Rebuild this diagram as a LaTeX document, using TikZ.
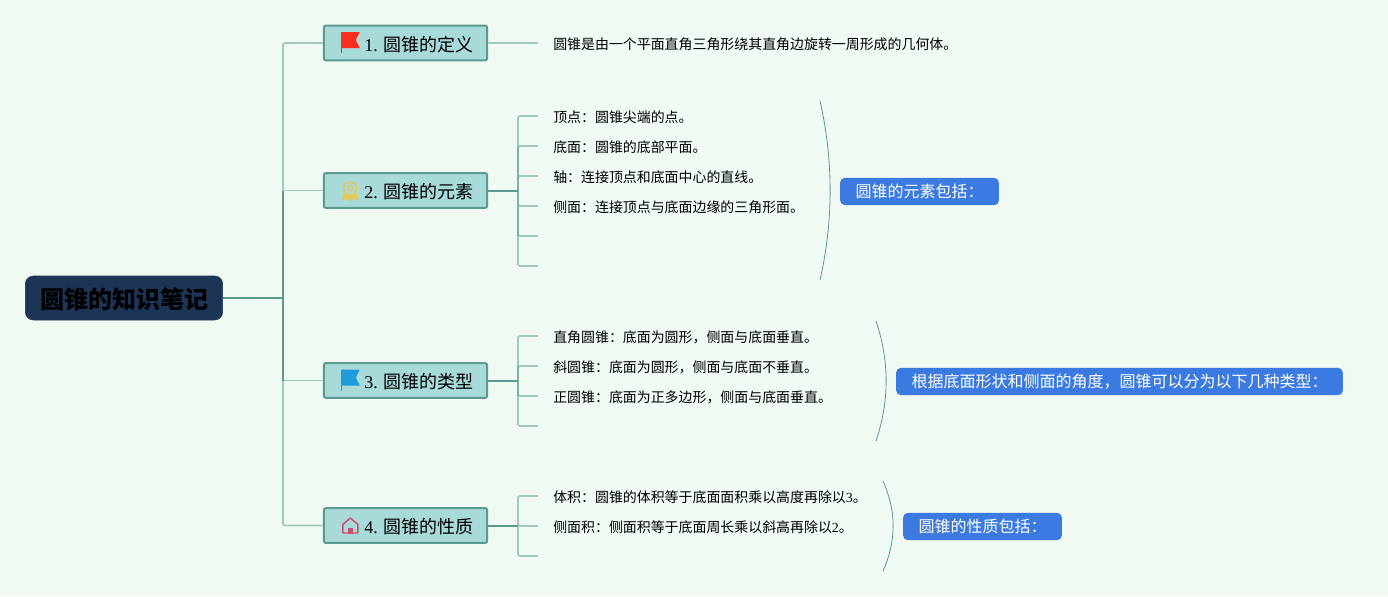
\documentclass[tikz,border=0pt]{standalone}
\usepackage{fontspec}
\setmainfont{Liberation Serif}
\newfontfamily\cjk{Noto Sans CJK SC}
\usetikzlibrary{positioning,calc}
\definecolor{bgc}{HTML}{F0FAF2}
\definecolor{rootc}{HTML}{1C3557}
\definecolor{topicc}{HTML}{A8DADA}
\definecolor{edgec}{HTML}{5B9A8F}
\definecolor{midc}{HTML}{7FB3A8}
\definecolor{farc}{HTML}{A0CBBB}
\definecolor{notec}{HTML}{3B7AE0}
\definecolor{flagred}{HTML}{F5301E}
\definecolor{flagblue}{HTML}{1E9BD8}
\definecolor{badgec}{HTML}{E5C85A}
\definecolor{housec}{HTML}{C94F6D}
\newcommand{\dig}[1]{{\rmfamily #1}}
\newcommand{\iconflag}[1]{%
  \fill[#1] (19,-11) -- (37,-11) -- (33,-3) -- (37,5) -- (19,5) -- cycle;
  \draw[#1,line width=0.6pt] (19,-11) -- (19,10);}

\begin{document}
\begin{tikzpicture}[
  x=0.75pt,y=-0.75pt,
  root/.style={draw=rootc,fill=rootc,rounded corners=6pt,minimum width=148pt,minimum height=33pt,inner sep=0pt,text height=16.5pt,text depth=1.5pt,font=\cjk\fontsize{18}{20}\selectfont\bfseries,text=black},
  topic/.style={draw=edgec,line width=1.5pt,fill=topicc,rounded corners=1.5pt,minimum width=122.5pt,minimum height=26pt,inner sep=0pt,text height=13pt,text depth=1pt,font=\cjk\fontsize{13.5}{15}\selectfont},
  leaf/.style={anchor=west,inner xsep=11.25pt,inner ysep=0pt,text height=10.5pt,text depth=1pt,font=\cjk\fontsize{10.45}{12}\selectfont},
  note/.style={fill=notec,rounded corners=3.5pt,minimum height=20.5pt,inner sep=0pt,text=white,font=\cjk\fontsize{12}{14}\selectfont},
  ln/.style={draw=edgec,line width=1.5pt},
  lnmid/.style={draw=midc,line width=1.3pt},
  lnfar/.style={draw=farc,line width=1.3pt,rounded corners=1.5pt},
  brace/.style={draw=edgec,line width=0.6pt}
]
\fill[bgc] (0,0) rectangle (1388,596);
\useasboundingbox (0,0) rectangle (1388,596);

% ---------------- root and main topics
\node[root] (root) at (124,298) {圆锥的知识笔记};
\node[topic] (t1) at (405.5,43) {\hspace{20pt}\dig{1.} 圆锥的定义};
\node[topic] (t2) at (405.5,190.5) {\hspace{20pt}\dig{2.} 圆锥的元素};
\node[topic] (t3) at (405.5,380.5) {\hspace{20pt}\dig{3.} 圆锥的类型};
\node[topic] (t4) at (405.5,525.5) {\hspace{20pt}\dig{4.} 圆锥的性质};

% ---------------- leaves
\node[leaf] (l11) at (538,43) {圆锥是由一个平面直角三角形绕其直角边旋转一周形成的几何体。};
\node[leaf] (l21) at (538,116) {顶点：圆锥尖端的点。};
\node[leaf] (l22) at (538,146) {底面：圆锥的底部平面。};
\node[leaf] (l23) at (538,176) {轴：连接顶点和底面中心的直线。};
\node[leaf] (l24) at (538,206) {侧面：连接顶点与底面边缘的三角形面。};
\node[leaf] (l25) at (538,236) {};
\node[leaf] (l26) at (538,266) {};
\node[leaf] (l31) at (538,336) {直角圆锥：底面为圆形，侧面与底面垂直。};
\node[leaf] (l32) at (538,366) {斜圆锥：底面为圆形，侧面与底面不垂直。};
\node[leaf] (l33) at (538,396) {正圆锥：底面为正多边形，侧面与底面垂直。};
\node[leaf] (l34) at (538,426) {};
\node[leaf] (l41) at (538,496) {体积：圆锥的体积等于底面面积乘以高度再除以\dig{3}。};
\node[leaf] (l42) at (538,526) {侧面积：侧面积等于底面周长乘以斜高再除以\dig{2}。};
\node[leaf] (l43) at (538,556) {};

% ---------------- notes
\node[note,minimum width=119pt] (n2) at (919.5,191.5) {圆锥的元素包括：};
\node[note,minimum width=335pt] (n3) at (1119.5,381.5) {根据底面形状和侧面的角度，圆锥可以分为以下几种类型：};
\node[note,minimum width=119pt] (n4) at (982.5,526.5) {圆锥的性质包括：};

% ---------------- main bus
\coordinate (b0) at (283,298);
\coordinate (b1) at (283,43);
\coordinate (b2) at (283,190.5);
\coordinate (b3) at (283,380.5);
\coordinate (b4) at (283,525.5);
\draw[lnfar] (b2) -- (b1) -- (t1.west);
\draw[lnfar] (b3) -- (b4) -- (t4.west);
\foreach \a in {2,3} \draw[lnfar] (b\a) -- (t\a.west);
\draw[ln] (root.east) -- (b0);
\draw[ln] (b2) -- (b3);

% ---------------- sub buses
\coordinate (s2) at (518,190.5);
\coordinate (s3) at (518,380.5);
\coordinate (s4) at (518,525.5);
\draw[lnfar] (t1.east) -- (l11.west);
\foreach \a/\b in {s2/l21,s2/l22,s2/l23,s2/l24,s2/l25,s2/l26,s3/l31,s3/l32,s3/l33,s3/l34,s4/l41,s4/l42,s4/l43} \draw[lnfar] (\a) |- (\b.west);
\draw[lnmid] (s2 |- l22.west) -- (s2 |- l25.west);
\draw[lnmid] (s3 |- l32.west) -- (s3 |- l33.west);
\foreach \a in {2,3,4} \draw[ln] (t\a.east) -- (s\a);

% ---------------- brackets
\coordinate (k2a) at (820,101);
\coordinate (k2b) at (820,280);
\coordinate (k3a) at (876,321);
\coordinate (k3b) at (876,441);
\coordinate (k4a) at (883,481);
\coordinate (k4b) at (883,571);
\draw[brace] (k2a) .. controls (833.5,160) and (833.5,221) .. (k2b);
\draw[brace] (k3a) .. controls (889.5,361) and (889.5,401) .. (k3b);
\draw[brace] (k4a) .. controls (896.5,511) and (896.5,541) .. (k4b);

% ---------------- icons
\begin{scope}[shift={(t1.west)}]
  \iconflag{flagred}
\end{scope}
\begin{scope}[shift={(t3.west)}]
  \iconflag{flagblue}
\end{scope}
\begin{scope}[shift={(t2.west)}]
  \fill[badgec] (21,2) -- (19,10) -- (24,8) -- (27.5,11) -- (31,8) -- (36,10) -- (34,2) -- cycle;
  \draw[badgec,line width=1.1pt,fill=topicc] (27.5,-2) circle (6.5);
  \draw[badgec,line width=0.8pt] (27.5,-2) circle (2.5);
\end{scope}
\begin{scope}[shift={(t4.west)}]
  \draw[housec,line width=1.1pt,line join=round] (20,7.5) -- (20,-1) -- (27.5,-7.5) -- (35,-1) -- (35,7.5) -- cycle;
  \fill[housec] (25,8) rectangle (30,2);
\end{scope}
\end{tikzpicture}
\end{document}
